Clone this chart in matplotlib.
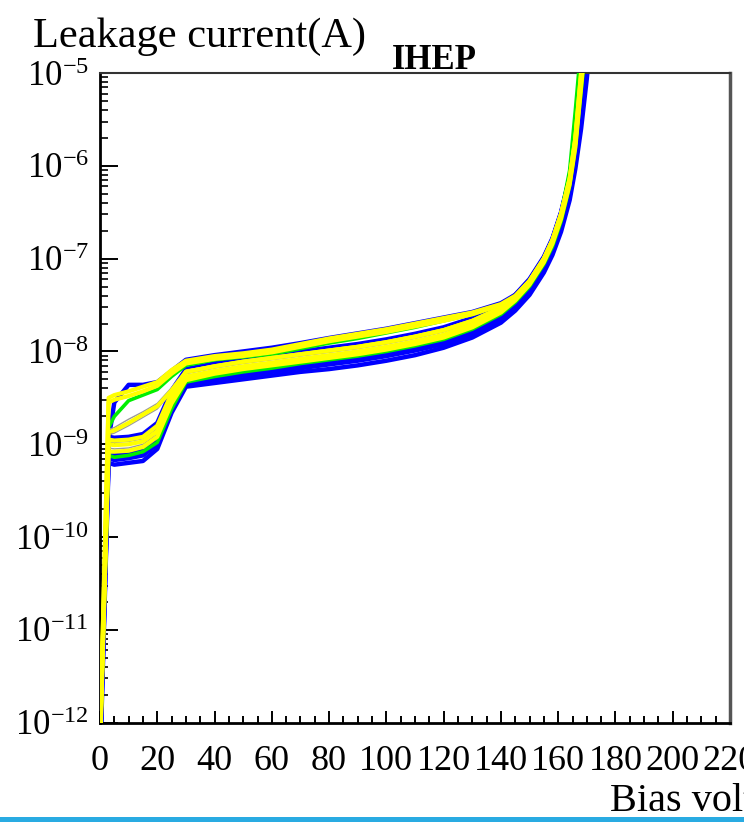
import numpy as np
import matplotlib
matplotlib.use("Agg")
import matplotlib.pyplot as plt
from matplotlib.patches import Rectangle
from matplotlib.ticker import LogLocator, MultipleLocator, LogFormatterSciNotation, NullFormatter

plt.rcParams["font.family"] = ["Liberation Serif", "DejaVu Serif"]
plt.rcParams["mathtext.fontset"] = "custom"
plt.rcParams["mathtext.rm"] = "Liberation Serif"
plt.rcParams["mathtext.it"] = "Liberation Serif:italic"

# 偏压 (V)
volts = [0, 3, 5, 10, 15, 20, 25, 30, 40, 50, 60, 70, 80, 90, 100, 110, 120,
         130, 140, 145, 150, 155, 158, 161, 164, 166, 168, 170, 172]

# 漏电流 log10(I/A)
blue_lo_a = [-12.5, -9.20, -9.22, -9.20, -9.18, -9.05, -8.66, -8.38, -8.34, -8.30, -8.26, -8.22, -8.19, -8.15,
             -8.10, -8.04, -7.96, -7.85, -7.69, -7.56, -7.39, -7.15, -6.96, -6.71, -6.37, -6.03, -5.60, -5.06, -4.4]
blue_lo_b = [-12.4, -9.15, -9.17, -9.15, -9.12, -9.00, -8.62, -8.35, -8.30, -8.26, -8.22, -8.18, -8.14, -8.10,
             -8.05, -7.99, -7.92, -7.81, -7.65, -7.52, -7.35, -7.11, -6.92, -6.67, -6.32, -5.97, -5.52, -4.96, -4.3]
blue_lo_c = [-12.4, -9.10, -9.12, -9.10, -9.07, -8.96, -8.58, -8.31, -8.26, -8.22, -8.18, -8.14, -8.10, -8.06,
             -8.01, -7.95, -7.88, -7.78, -7.62, -7.49, -7.32, -7.08, -6.89, -6.63, -6.28, -5.91, -5.43, -4.86, -4.2]
blue_edge = [-12.2, -8.92, -8.93, -8.92, -8.89, -8.77, -8.42, -8.19, -8.13, -8.09, -8.04, -8.00, -7.96, -7.92,
             -7.87, -7.81, -7.74, -7.64, -7.51, -7.39, -7.22, -6.98, -6.78, -6.50, -6.12, -5.68, -5.00, -4.4, -4.0]
blue_hi = [-12.3, -8.95, -8.55, -8.36, -8.36, -8.33, -8.21, -8.09, -8.04, -8.00, -7.96, -7.91, -7.855, -7.805,
           -7.755, -7.695, -7.635, -7.575, -7.48, -7.39, -7.23, -6.99, -6.79, -6.51, -6.13, -5.70, -5.02, -4.4, -4.0]

green_hi = [-12.2, -8.82, -8.70, -8.53, -8.47, -8.41, -8.27, -8.15, -8.09, -8.06, -8.03, -7.97, -7.91, -7.86,
            -7.80, -7.74, -7.67, -7.60, -7.50, -7.41, -7.26, -7.03, -6.82, -6.52, -6.05, -5.40, -4.70, -4.2, -4.0]
green_lo = [-12.3, -9.12, -9.14, -9.12, -9.08, -8.98, -8.62, -8.33, -8.27, -8.22, -8.18, -8.13, -8.09, -8.05,
            -8.00, -7.94, -7.87, -7.76, -7.60, -7.47, -7.30, -7.06, -6.87, -6.60, -6.22, -5.80, -5.20, -4.6, -4.0]

gray_a = [-12.2, -9.04, -9.05, -9.04, -9.00, -8.89, -8.53, -8.29, -8.22, -8.18, -8.13, -8.09, -8.05, -8.01,
          -7.96, -7.90, -7.83, -7.72, -7.57, -7.44, -7.27, -7.03, -6.83, -6.56, -6.19, -5.78, -5.12, -4.5, -4.0]
gray_b = [-12.2, -8.98, -8.98, -8.97, -8.94, -8.83, -8.48, -8.24, -8.18, -8.13, -8.09, -8.05, -8.01, -7.97,
          -7.92, -7.86, -7.79, -7.69, -7.54, -7.42, -7.25, -7.01, -6.81, -6.53, -6.16, -5.72, -5.04, -4.4, -4.0]
gray_c = [-12.2, -8.90, -8.88, -8.80, -8.71, -8.62, -8.44, -8.23, -8.17, -8.12, -8.08, -8.04, -8.00, -7.96,
          -7.91, -7.85, -7.78, -7.68, -7.53, -7.41, -7.24, -7.00, -6.80, -6.52, -6.14, -5.70, -5.00, -4.4, -4.0]
gray_d = [-12.2, -8.84, -8.82, -8.73, -8.65, -8.56, -8.39, -8.20, -8.15, -8.10, -8.06, -8.02, -7.98, -7.94,
          -7.89, -7.83, -7.76, -7.66, -7.52, -7.40, -7.23, -6.99, -6.79, -6.51, -6.13, -5.69, -5.00, -4.4, -4.0]
gray_e = [-12.2, -8.56, -8.53, -8.49, -8.44, -8.38, -8.25, -8.12, -8.07, -8.04, -8.00, -7.94, -7.88, -7.83,
          -7.78, -7.72, -7.66, -7.59, -7.49, -7.40, -7.24, -7.00, -6.80, -6.52, -6.15, -5.72, -5.05, -4.5, -4.0]

yellow_lo_a = [-12.3, -9.08, -9.08, -9.07, -9.03, -8.92, -8.56, -8.31, -8.24, -8.19, -8.15, -8.11, -8.07, -8.03,
               -7.98, -7.92, -7.85, -7.74, -7.58, -7.45, -7.28, -7.04, -6.84, -6.57, -6.20, -5.80, -5.15, -4.5, -4.0]
yellow_lo_b = [-12.3, -9.00, -9.01, -9.00, -8.97, -8.86, -8.50, -8.27, -8.21, -8.16, -8.12, -8.08, -8.04, -8.00,
               -7.95, -7.89, -7.82, -7.71, -7.56, -7.43, -7.26, -7.02, -6.82, -6.55, -6.18, -5.75, -5.10, -4.5, -4.0]
yellow_lo_c = [-12.2, -8.95, -8.96, -8.95, -8.92, -8.80, -8.45, -8.22, -8.16, -8.11, -8.07, -8.03, -7.99, -7.95,
               -7.90, -7.84, -7.77, -7.67, -7.53, -7.41, -7.24, -7.00, -6.80, -6.52, -6.14, -5.70, -5.00, -4.4, -4.0]
yellow_mid = [-12.2, -8.87, -8.85, -8.77, -8.68, -8.59, -8.42, -8.22, -8.16, -8.11, -8.07, -8.03, -7.99, -7.95,
              -7.90, -7.84, -7.77, -7.67, -7.53, -7.41, -7.24, -7.00, -6.80, -6.52, -6.14, -5.70, -5.00, -4.4, -4.0]
yellow_hi_a = [-12.2, -8.50, -8.47, -8.43, -8.38, -8.33, -8.20, -8.10, -8.05, -8.02, -7.98, -7.92, -7.86, -7.81,
               -7.76, -7.70, -7.64, -7.58, -7.49, -7.40, -7.24, -7.00, -6.80, -6.52, -6.15, -5.72, -5.05, -4.5, -4.0]
yellow_hi_b = [-12.2, -8.55, -8.52, -8.48, -8.43, -8.37, -8.24, -8.13, -8.08, -8.05, -8.01, -7.95, -7.89, -7.84,
               -7.79, -7.73, -7.67, -7.60, -7.50, -7.41, -7.25, -7.01, -6.81, -6.53, -6.16, -5.74, -5.08, -4.5, -4.0]

x_ticks = [0, 20, 40, 60, 80, 100, 120, 140, 160, 180, 200, 220]

fig = plt.figure(figsize=(7.44, 8.22), dpi=100)
ax = fig.add_axes([100 / 744, 1 - 722.7 / 822, 630 / 744, 649.7 / 822])

for c in [blue_lo_a, blue_lo_b, blue_lo_c, blue_edge, blue_hi]:
    ax.plot(volts, 10 ** np.array(c), color="#0000ff", lw=3.2, zorder=2)
for c in [green_hi, green_lo]:
    ax.plot(volts, 10 ** np.array(c), color="#00ee00", lw=2.6, zorder=3)
for c in [gray_a, gray_b, gray_c, gray_d, gray_e]:
    ax.plot(volts, 10 ** np.array(c), color="#9a9a9a", lw=1.0, zorder=4)
for c in [yellow_lo_a, yellow_lo_b, yellow_lo_c, yellow_mid, yellow_hi_a, yellow_hi_b]:
    ax.plot(volts, 10 ** np.array(c), color="#ffff00", lw=3.0, zorder=5)

ax.set_yscale("log")
ax.set_xlim(0, 220)
ax.set_ylim(1e-12, 1e-5)

ax.xaxis.set_minor_locator(MultipleLocator(5))
ax.set_xticks(x_ticks)
ax.set_xticklabels([str(t) for t in x_ticks])
ax.yaxis.set_major_locator(LogLocator(base=10, numticks=20))
ax.yaxis.set_minor_locator(LogLocator(base=10, subs=np.arange(2, 10), numticks=20))
ax.yaxis.set_major_formatter(LogFormatterSciNotation())
ax.yaxis.set_minor_formatter(NullFormatter())

ax.tick_params(axis="x", which="major", direction="in", length=8.5, width=1.4, labelsize=26, pad=16, top=False)
ax.tick_params(axis="x", which="minor", direction="in", length=5, width=1.4, top=False)
ax.tick_params(axis="y", which="major", direction="in", length=13, width=1.4, labelsize=25, pad=8, right=False)
ax.tick_params(axis="y", which="minor", direction="in", length=6, width=1.2, right=False)

ax.spines["left"].set_linewidth(2)
ax.spines["bottom"].set_linewidth(2)
ax.spines["top"].set_linewidth(1.5)
ax.spines["top"].set_color("#333333")
ax.spines["right"].set_linewidth(2.5)
ax.spines["right"].set_color("#555555")

fig.text(33 / 744, 1 - 47 / 822, "Leakage current(A)", fontsize=30.5, ha="left", va="baseline")
fig.text(434 / 744, 1 - 69 / 822, "IHEP", fontsize=25, fontweight="bold", ha="center", va="baseline")
fig.text(610 / 744, 1 - 811 / 822, "Bias voltage(V)", fontsize=29, ha="left", va="baseline")

# 底部蓝色分隔线
fig.add_artist(Rectangle((0, 0), 1, 5.5 / 822, transform=fig.transFigure,
                         facecolor="#29abe2", edgecolor="none"))

fig.savefig("out.png", dpi=100)
